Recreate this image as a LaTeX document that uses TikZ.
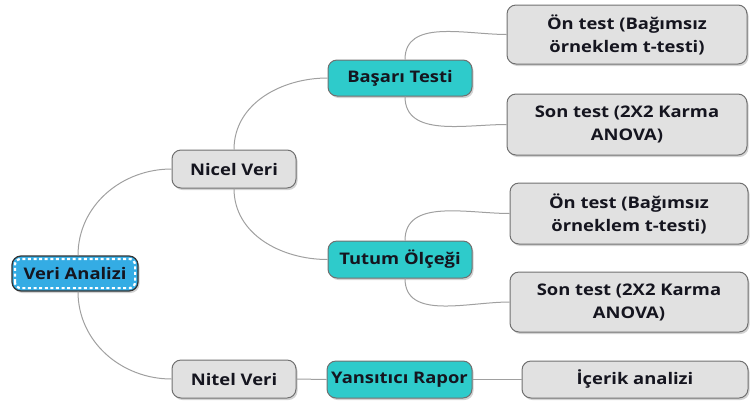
\documentclass[tikz,border=0pt]{standalone}
\usepackage{fontspec}
\setmainfont{Open Sans}[FakeStretch=1.15]
\usetikzlibrary{shadows}
\definecolor{boxgray}{HTML}{E1E1E1}
\definecolor{teal}{HTML}{2ECBCB}
\definecolor{rootblue}{HTML}{34ACE4}
\definecolor{linegray}{HTML}{A0A0A0}
\definecolor{bordergray}{HTML}{707070}
\definecolor{txt}{HTML}{15151F}
\tikzset{
  box/.style={draw=bordergray, line width=1pt, rounded corners=9pt, align=center,
    text=txt, font=\fontsize{16}{23}\selectfont\bfseries, inner sep=0pt,
    drop shadow={opacity=0.35, shadow xshift=1.5pt, shadow yshift=-2pt}},
  graybox/.style={box, fill=boxgray},
  tealbox/.style={box, fill=teal},
  rootbox/.style={box, fill=rootblue, draw=black!80, line width=1.2pt},
  conn/.style={draw=linegray, line width=1pt},
}
\begin{document}
\begin{tikzpicture}[x=1pt,y=-1pt]
\useasboundingbox (0,0) rectangle (752,408);
% nodes
\node[rootbox, minimum width=126pt, minimum height=35pt] (root) at (75,273.5) {Veri Analizi};
\draw[white, line width=2.2pt, dash pattern=on 3pt off 2.6pt, rounded corners=6pt]
  ([shift={(3.5pt,3.5pt)}]root.south west) rectangle ([shift={(-3.5pt,-3.5pt)}]root.north east);
\node[graybox, minimum width=124pt, minimum height=38pt] (nicel) at (234,169) {Nicel Veri};
\node[graybox, minimum width=124pt, minimum height=38pt] (nitel) at (234,379) {Nitel Veri};
\node[tealbox, minimum width=144pt, minimum height=36pt] (basari) at (400,78) {Başarı Testi};
\node[tealbox, minimum width=144pt, minimum height=37pt] (tutum) at (400,259.5) {Tutum Ölçeği};
\node[tealbox, minimum width=145pt, minimum height=37pt] (yans) at (399.5,379.5) {Yansıtıcı Rapor};
\node[graybox, minimum width=240pt, minimum height=59pt] (on1) at (627,34.5) {Ön test (Bağımsız\\örneklem t-testi)};
\node[graybox, minimum width=240pt, minimum height=61pt] (son1) at (627,124.5) {Son test (2X2 Karma\\ANOVA)};
\node[graybox, minimum width=238pt, minimum height=61pt] (on2) at (629,213.5) {Ön test (Bağımsız\\örneklem t-testi)};
\node[graybox, minimum width=238pt, minimum height=60pt] (son2) at (629,302) {Son test (2X2 Karma\\ANOVA)};
\node[graybox, minimum width=226pt, minimum height=37pt] (icerik) at (635,379.5) {İçerik analizi};
% connectors
\draw[conn] ([xshift=3pt]root.north) to[out=90,in=180] (nicel.west);
\draw[conn] ([xshift=3pt]root.south) to[out=-90,in=180] (nitel.west);
\draw[conn] (nicel.north) to[out=90,in=180] (basari.west);
\draw[conn] (nicel.south) to[out=-90,in=180] (tutum.west);
\draw[conn] ([xshift=5pt]basari.north) to[out=90,in=180] (on1.west);
\draw[conn] ([xshift=5pt]basari.south) to[out=-90,in=180] (son1.west);
\draw[conn] ([xshift=5pt]tutum.north) to[out=90,in=180] (on2.west);
\draw[conn] ([xshift=5pt]tutum.south) to[out=-90,in=180] (son2.west);
\draw[conn] (nitel.east) -- (yans.west);
\draw[conn] (yans.east) -- (icerik.west);
\end{tikzpicture}
\end{document}
